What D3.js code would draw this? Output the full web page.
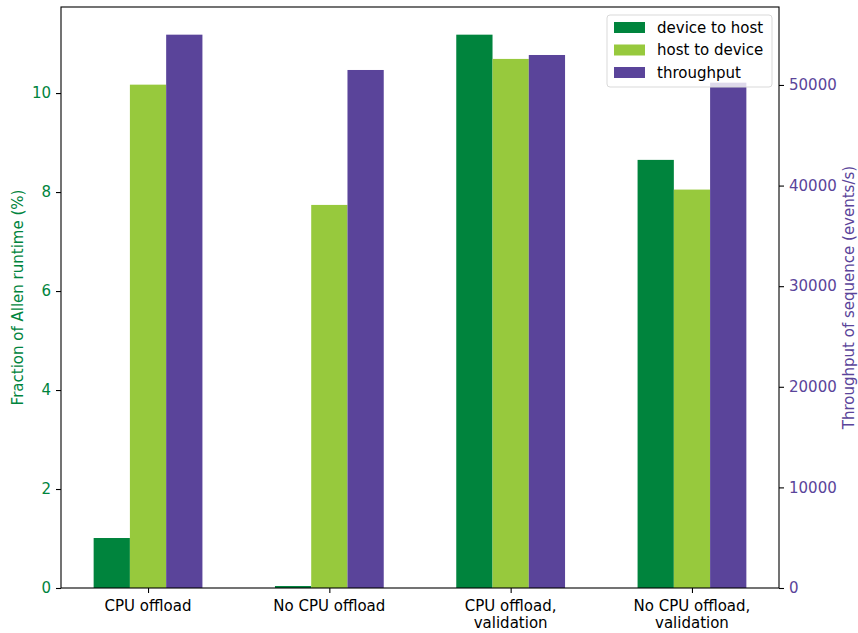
<!DOCTYPE html>
<html>
<head>
<meta charset="utf-8">
<script src="https://cdn.jsdelivr.net/npm/d3@7"></script>
<style>
  html, body { margin: 0; padding: 0; background: #fff; }
  svg { display: block; font-family: "DejaVu Sans", sans-serif; }
</style>
</head>
<body>
<svg id="chart" width="858" height="633"></svg>
<script>
// Configurations of the sequence run
const categories = [
  ["CPU offload"],
  ["No CPU offload"],
  ["CPU offload,", "validation"],
  ["No CPU offload,", "validation"]
];
// Fraction of Allen runtime (%)
const deviceToHost = [1.01, 0.04, 11.18, 8.65];
const hostToDevice = [10.17, 7.74, 10.69, 8.05];
// Throughput of the sequence (events/s)
const throughput = [55000, 51490, 52980, 50230];

const leftTicks = [0, 2, 4, 6, 8, 10];
const rightTicks = [0, 10000, 20000, 30000, 40000, 50000];

const seriesNames = ["device to host", "host to device", "throughput"];
const colors = ["#00843d", "#97c93d", "#5a449a"];
const leftColor = "#00843d";
const rightColor = "#5a449a";

const svg = d3.select("#chart");
const m = { left: 61, right: 779, top: 7, bottom: 588 };
const barW = 0.2;

// Category positions in data units, with 5% side margins
const x = d3.scaleLinear()
  .domain([-0.48, 3.48])
  .range([m.left, m.right]);

const yL = d3.scaleLinear()
  .domain([0, d3.max(deviceToHost.concat(hostToDevice)) * 1.05])
  .range([m.bottom, m.top]);

const yR = d3.scaleLinear()
  .domain([0, d3.max(throughput) * 1.05])
  .range([m.bottom, m.top]);

const bars = [
  { vals: deviceToHost, scale: yL, off: -barW, color: colors[0] },
  { vals: hostToDevice, scale: yL, off: 0, color: colors[1] },
  { vals: throughput, scale: yR, off: barW, color: colors[2] }
];

bars.forEach(s => {
  svg.append("g").selectAll("rect")
    .data(s.vals)
    .join("rect")
    .attr("x", (d, i) => x(i + s.off - barW / 2))
    .attr("width", (d, i) => x(i + s.off + barW / 2) - x(i + s.off - barW / 2))
    .attr("y", d => s.scale(d))
    .attr("height", d => s.scale(0) - s.scale(d))
    .attr("fill", s.color);
});

// Axes
const fontSize = "15px";
function styleAxis(g, color) {
  g.select(".domain").remove();
  g.selectAll(".tick line").attr("stroke", "#000").attr("stroke-width", 1.1);
  g.selectAll(".tick text")
    .attr("fill", color)
    .style("font-size", fontSize)
    .style("font-family", "'DejaVu Sans', sans-serif");
}

const gL = svg.append("g")
  .attr("transform", `translate(${m.left},0)`)
  .call(d3.axisLeft(yL).tickValues(leftTicks).tickSize(5).tickPadding(5).tickFormat(d3.format("d")));
styleAxis(gL, leftColor);

const gR = svg.append("g")
  .attr("transform", `translate(${m.right},0)`)
  .call(d3.axisRight(yR).tickValues(rightTicks).tickSize(5).tickPadding(5).tickFormat(d3.format("d")));
styleAxis(gR, rightColor);

const gB = svg.append("g")
  .attr("transform", `translate(0,${m.bottom})`)
  .call(d3.axisBottom(x).tickValues(d3.range(categories.length)).tickSize(5).tickFormat(""));
gB.select(".domain").remove();
gB.selectAll(".tick line").attr("stroke", "#000").attr("stroke-width", 1.1);

// Multi-line category labels
svg.append("g").selectAll("text")
  .data(categories)
  .join("text")
  .attr("text-anchor", "middle")
  .attr("fill", "#000")
  .style("font-size", fontSize)
  .attr("x", (d, i) => x(i))
  .attr("y", m.bottom + 23)
  .selectAll("tspan")
  .data(d => d)
  .join("tspan")
  .attr("x", function () { return d3.select(this.parentNode).attr("x"); })
  .attr("dy", (d, j) => j === 0 ? 0 : 17)
  .text(d => d);

// Frame
svg.append("rect")
  .attr("x", m.left).attr("y", m.top)
  .attr("width", m.right - m.left).attr("height", m.bottom - m.top)
  .attr("fill", "none").attr("stroke", "#000").attr("stroke-width", 1.1);

// Axis titles
const midY = (m.top + m.bottom) / 2;
svg.append("text")
  .attr("transform", `translate(23,${midY}) rotate(-90)`)
  .attr("text-anchor", "middle")
  .attr("fill", leftColor)
  .style("font-size", fontSize)
  .text("Fraction of Allen runtime (%)");

svg.append("text")
  .attr("transform", `translate(854,${midY}) rotate(-90)`)
  .attr("text-anchor", "middle")
  .attr("fill", rightColor)
  .style("font-size", fontSize)
  .text("Throughput of sequence (events/s)");

// Legend
const lg = svg.append("g").attr("transform", "translate(607,15)");
lg.append("rect")
  .attr("width", 165).attr("height", 72)
  .attr("rx", 3).attr("ry", 3)
  .attr("fill", "#fff").attr("fill-opacity", 0.8)
  .attr("stroke", "#d9d9d9").attr("stroke-width", 1);
seriesNames.forEach((name, i) => {
  const yy = 7 + i * 22.5;
  lg.append("rect")
    .attr("x", 7).attr("y", yy)
    .attr("width", 31).attr("height", 11)
    .attr("fill", colors[i]);
  lg.append("text")
    .attr("x", 50).attr("y", yy + 10.5)
    .attr("fill", "#000")
    .style("font-size", fontSize)
    .text(name);
});
</script>
</body>
</html>
